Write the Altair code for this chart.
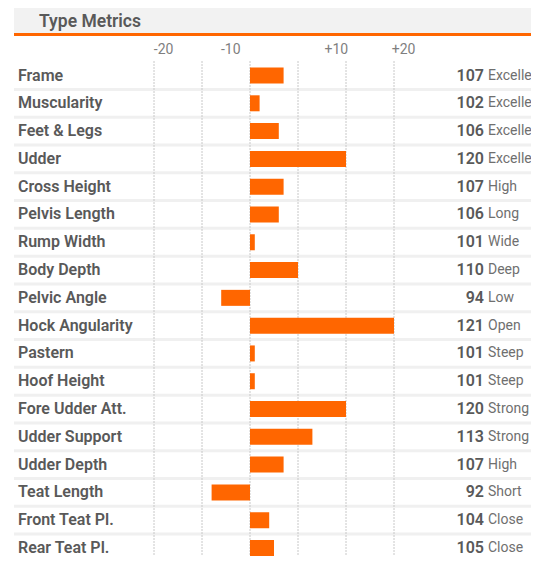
import altair as alt
import pandas as pd

metrics = ["Frame", "Muscularity", "Feet & Legs", "Udder", "Cross Height",
           "Pelvis Length", "Rump Width", "Body Depth", "Pelvic Angle",
           "Hock Angularity", "Pastern", "Hoof Height", "Fore Udder Att.",
           "Udder Support", "Udder Depth", "Teat Length", "Front Teat Pl.",
           "Rear Teat Pl."]
scores = [107, 102, 106, 120, 107, 106, 101, 110, 94, 121, 101, 101, 120, 113,
          107, 92, 104, 105]
bar_dev = [7, 2, 6, 20, 7, 6, 1, 10, -6, 30, 1, 1, 20, 13, 7, -8, 4, 5]
descriptors = ["Excellent", "Excellent", "Excellent", "Excellent", "High",
               "Long", "Wide", "Deep", "Low", "Open", "Steep", "Steep",
               "Strong", "Strong", "High", "Short", "Close", "Close"]
grid_values = [-20, -10, 0, 10, 20, 30]
tick_labels = ["-20", "-10", "+10", "+20"]
tick_label_pos = [-18, -4, 18, 32]
title = "Type Metrics"

df = pd.DataFrame({"metric": metrics, "score": scores, "dev": bar_dev,
                   "desc": descriptors})
grid_df = pd.DataFrame({"g": grid_values})
tick_df = pd.DataFrame({"label": tick_labels, "pos": tick_label_pos})

W, H = 523, 548
GRAY = "#595959"
ORANGE = "#ff6600"
FONT = "Roboto"

xs = alt.Scale(domain=[-242 / 4.8, (W - 242) / 4.8], nice=False, zero=False)
STEP = (540 - 67.5) / 17
ys = alt.Scale(domain=metrics, range=[67.5 - STEP / 2, 540 + STEP / 2],
               paddingInner=0, paddingOuter=0)

base = alt.Chart(df)
Y = alt.Y("metric:N", sort=None, scale=ys, axis=None)

one = pd.DataFrame({"t": [title]})
band = alt.Chart(one).mark_rect(color="#f2f2f2").encode(
    x=alt.value(6), x2=alt.value(W), y=alt.value(0), y2=alt.value(25))
orange_line = alt.Chart(one).mark_rect(color=ORANGE).encode(
    x=alt.value(6), x2=alt.value(W), y=alt.value(25), y2=alt.value(28))
title_text = alt.Chart(one).mark_text(
    align="left", baseline="middle", font=FONT, fontSize=17.5, fontWeight=600,
    color=GRAY).encode(x=alt.value(31), y=alt.value(13.5), text="t:N")

separators = base.mark_rule(color="#f0f0f0", strokeWidth=3).encode(
    y=alt.Y("metric:N", sort=None, scale=ys, axis=None, bandPosition=1),
    x=alt.value(6), x2=alt.value(W))

grid = alt.Chart(grid_df).mark_rule(color="#c8c8c8", strokeWidth=1,
                                    strokeDash=[2, 1]).encode(
    x=alt.X("g:Q", scale=xs, axis=None), y=alt.value(53), y2=alt.value(H))

ticks = alt.Chart(tick_df).mark_text(
    align="center", baseline="middle", font=FONT, fontSize=14,
    color="#7f7f7f").encode(
    x=alt.X("pos:Q", scale=xs, axis=None), y=alt.value(41.5), text="label:N")

bars = base.mark_bar(color=ORANGE, height=16).encode(
    x=alt.X("dev:Q", scale=xs, axis=None), y=Y)

names = base.mark_text(align="left", baseline="middle", font=FONT, fontSize=16,
                       fontWeight=600, color=GRAY).encode(
    x=alt.value(10), y=Y, text="metric:N")

nums = base.mark_text(align="right", baseline="middle", font=FONT, fontSize=16,
                      fontWeight=600, color=GRAY).encode(
    x=alt.value(476), y=Y, text="score:Q")

descs = base.mark_text(align="left", baseline="middle", font=FONT, fontSize=14,
                       color="#6f6f6f").encode(
    x=alt.value(480), y=Y, text="desc:N")

chart = alt.layer(band, orange_line, title_text, separators, grid, ticks, bars,
                  names, nums, descs).properties(
    width=W, height=H, autosize=alt.AutoSizeParams(type="none"), padding=0
).configure_view(stroke=None)

chart.save("out.html", embed_options={"renderer": "svg", "actions": False})
